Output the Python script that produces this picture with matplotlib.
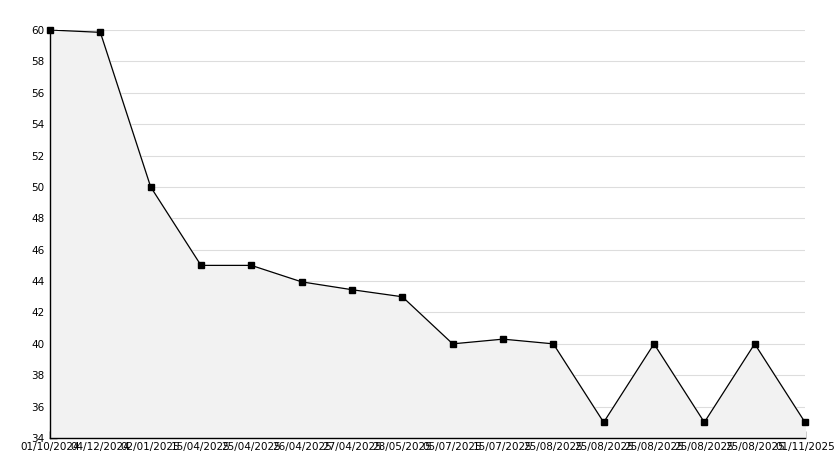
import matplotlib
matplotlib.use("Agg")
import matplotlib.pyplot as plt
from matplotlib.ticker import MultipleLocator

dates = ["01/10/2024", "04/12/2024", "02/01/2025", "15/04/2025", "25/04/2025",
         "26/04/2025", "27/04/2025", "28/05/2025", "05/07/2025", "15/07/2025",
         "25/08/2025", "25/08/2025", "25/08/2025", "25/08/2025", "25/08/2025",
         "01/11/2025"]
values = [60, 59.85, 50, 45, 45, 43.95, 43.45, 43, 40, 40.3, 40, 35, 40, 35, 40, 35]

W, H = 834, 468
fig = plt.figure(figsize=(W / 100, H / 100), dpi=100)
ax = fig.add_axes([50 / W, 1 - 438 / H, (805 - 50) / W, (438 - 30) / H])

x = list(range(len(values)))
ax.fill_between(x, values, 34, color="#f2f2f2", zorder=1)
ax.plot(x, values, color="black", lw=0.9, zorder=3)
ax.plot(x, values, ls="none", marker="s", ms=3.8, color="black", zorder=4, clip_on=False)

ax.set_xlim(0, len(values) - 1)
ax.set_ylim(34, 60)
ax.yaxis.set_major_locator(MultipleLocator(2))
ax.yaxis.set_minor_locator(MultipleLocator(1))
ax.set_xticks(x)
ax.set_xticklabels(dates)
ax.grid(axis="y", which="major", color="#dddddd", lw=0.8, zorder=0)
ax.set_axisbelow(True)

for s in ["top", "right"]:
    ax.spines[s].set_visible(False)
ax.spines["left"].set_linewidth(1.0)
ax.spines["bottom"].set_linewidth(1.0)
ax.tick_params(axis="both", which="major", direction="in", length=5, width=1, labelsize=7.5, pad=4)
ax.tick_params(axis="y", which="minor", direction="in", length=3, width=1)
ax.tick_params(axis="x", pad=3)

fig.savefig("out.png", dpi=100, facecolor="white")
